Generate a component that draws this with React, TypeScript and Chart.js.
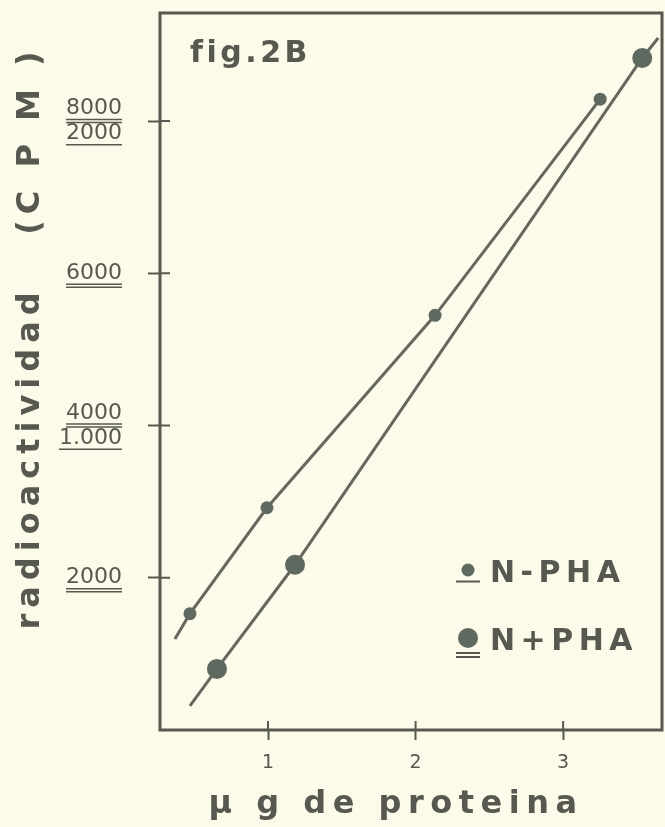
import React, { useEffect, useRef } from 'react';
import { Chart, registerables } from 'chart.js';

Chart.register(...registerables);

// ---- data ----
// N-PHA is read on the secondary scale (2000 at the 8000 mark, 1.000 at 4000)
const N_MINUS_X = [0.471, 0.993, 2.132, 3.251];
const N_MINUS_Y = [382, 730, 1362, 2072];
const N_PLUS_X = [0.654, 1.183, 3.536];
const N_PLUS_Y = [803, 2171, 8829];
// ends of the drawn lines beyond the measured points
const N_MINUS_LINE_START = [0.369, 299];
const N_PLUS_LINE_START = [0.471, 316];
const N_PLUS_LINE_END = [3.644, 9092];

const X_TICKS = [1, 2, 3];
const Y_TICKS = [2000, 4000, 6000, 8000];
const Y_TICK_LABELS = [['2000'], ['4000', '1.000'], ['6000'], ['8000', '2000']];
const Y_TICK_UNDERLINES = [[2], [2, 1], [2], [2, 1]];
const X_MIN = 0.268;
const X_MAX = 3.67;
const Y_MAX = 9420;
const Y2_MAX = 2355;

const SERIES = ['N-PHA', 'N+PHA'];
const FIG_LABEL = 'fig.2B';
const X_TITLE = 'µ g de proteina';
const Y_TITLE = 'radioactividad   (C P M )';

// ---- style ----
const BG = '#fcfae9';
const INK = '#57584f';
const LINE = '#66675f';
const DOT = '#5e6a5f';
const FONT = "'DejaVu Sans', sans-serif";
const TICK_FONT = 22;
const TICK_LH = 1.15;
const SMALL_R = 6.5;
const BIG_R = 10;

const toPts = (xs: number[], ys: number[]) => xs.map((x, i) => ({ x, y: ys[i] }));
const pt = (p: number[]) => ({ x: p[0], y: p[1] });

const TITLE_STYLE: Record<string, { spacing: string; dx: number; dy: number }> = {
  x: { spacing: '6.5px', dx: -15, dy: 0 },
  y: { spacing: '6px', dx: 0, dy: -34 },
};

const zeroPad = (s: any) => {
  s.paddingTop = 0;
  s.paddingBottom = 0;
  s.paddingLeft = 0;
  s.paddingRight = 0;
};

const decor = {
  id: 'decor',
  beforeDraw(chart: any) {
    const { ctx, width, height } = chart;
    ctx.save();
    ctx.fillStyle = BG;
    ctx.fillRect(0, 0, width, height);
    ctx.restore();
    for (const id of ['x', 'y']) {
      const s: any = chart.scales[id];
      if (s && !s.__patched) {
        const orig = s.drawTitle;
        s.drawTitle = function () {
          const c = this.ctx;
          const st = TITLE_STYLE[id];
          c.save();
          c.letterSpacing = st.spacing;
          c.translate(st.dx, st.dy);
          orig.call(this);
          c.restore();
        };
        s.__patched = true;
      }
    }
  },
  afterDraw(chart: any) {
    const { ctx, chartArea: a } = chart;
    const xs = chart.scales.x;
    const ys = chart.scales.y;
    ctx.save();
    ctx.strokeStyle = INK;
    ctx.lineWidth = 3;
    ctx.strokeRect(a.left, a.top, a.right - a.left, a.bottom - a.top);

    // inner parts of the crossing tick marks
    ctx.lineWidth = 2;
    ctx.beginPath();
    X_TICKS.forEach((v) => {
      const px = xs.getPixelForValue(v);
      ctx.moveTo(px, a.bottom);
      ctx.lineTo(px, a.bottom - 9);
    });
    Y_TICKS.forEach((v) => {
      const py = ys.getPixelForValue(v);
      ctx.moveTo(a.left, py);
      ctx.lineTo(a.left + 10, py);
    });
    ctx.stroke();

    // underlines of y tick labels
    ctx.font = `${TICK_FONT}px ${FONT}`;
    const right = a.left - ys.options.grid.tickLength - ys.options.ticks.padding;
    const lh = TICK_FONT * TICK_LH;
    ctx.lineWidth = 1.5;
    Y_TICKS.forEach((v, i) => {
      const py = ys.getPixelForValue(v);
      const lines = Y_TICK_LABELS[i];
      lines.forEach((t, j) => {
        const cy = py + (j - (lines.length - 1) / 2) * lh;
        const w = ctx.measureText(t).width;
        const n = Y_TICK_UNDERLINES[i][j];
        ctx.beginPath();
        for (let k = 0; k < n; k++) {
          const uy = cy + 11 + k * 3;
          ctx.moveTo(right - w, uy);
          ctx.lineTo(right, uy);
        }
        ctx.stroke();
      });
    });

    // figure label
    ctx.fillStyle = INK;
    ctx.letterSpacing = '3.5px';
    ctx.font = `bold 30px ${FONT}`;
    ctx.textAlign = 'left';
    ctx.textBaseline = 'alphabetic';
    ctx.fillText(FIG_LABEL, a.left + 30, a.top + 49);

    // legend
    const lx = a.right - 194;
    const rows = [a.bottom - 157, a.bottom - 89];
    const radii = [SMALL_R, BIG_R];
    ctx.font = `bold 30px ${FONT}`;
    ctx.letterSpacing = '5.5px';
    ctx.textBaseline = 'middle';
    SERIES.forEach((name, i) => {
      const cy = rows[i];
      ctx.fillStyle = DOT;
      ctx.beginPath();
      ctx.arc(lx, cy - 3, radii[i], 0, Math.PI * 2);
      ctx.fill();
      ctx.strokeStyle = INK;
      ctx.lineWidth = 2;
      ctx.beginPath();
      for (let k = 0; k <= i; k++) {
        const uy = cy + radii[i] + 2 + k * 4;
        ctx.moveTo(lx - 12, uy);
        ctx.lineTo(lx + 12, uy);
      }
      ctx.stroke();
      ctx.fillStyle = INK;
      ctx.fillText(name, lx + 22, cy + 1);
    });
    ctx.restore();
  },
};

export default function App() {
  const ref = useRef<HTMLCanvasElement>(null);
  useEffect(() => {
    document.body.style.margin = '0';
    document.body.style.background = BG;
    const chart = new Chart(ref.current as HTMLCanvasElement, {
      type: 'scatter',
      data: {
        datasets: [
          {
            label: SERIES[0] + ' line',
            type: 'line',
            data: [pt(N_MINUS_LINE_START), ...toPts(N_MINUS_X, N_MINUS_Y)],
            yAxisID: 'y2',
            borderColor: LINE,
            borderWidth: 3,
            pointRadius: 0,
            tension: 0,
            fill: false,
            order: 2,
          },
          {
            label: SERIES[1] + ' line',
            type: 'line',
            data: [pt(N_PLUS_LINE_START), ...toPts(N_PLUS_X, N_PLUS_Y), pt(N_PLUS_LINE_END)],
            yAxisID: 'y',
            borderColor: LINE,
            borderWidth: 3,
            pointRadius: 0,
            tension: 0,
            fill: false,
            order: 2,
          },
          {
            label: SERIES[0],
            data: toPts(N_MINUS_X, N_MINUS_Y),
            yAxisID: 'y2',
            backgroundColor: DOT,
            borderWidth: 0,
            pointRadius: SMALL_R,
            order: 1,
          },
          {
            label: SERIES[1],
            data: toPts(N_PLUS_X, N_PLUS_Y),
            yAxisID: 'y',
            backgroundColor: DOT,
            borderWidth: 0,
            pointRadius: BIG_R,
            order: 1,
          },
        ],
      },
      options: {
        animation: false,
        responsive: true,
        maintainAspectRatio: false,
        layout: { autoPadding: false, padding: { top: 13, right: 3, left: 0, bottom: 0 } },
        plugins: { legend: { display: false }, tooltip: { enabled: false } },
        scales: {
          x: {
            type: 'linear',
            min: X_MIN,
            max: X_MAX,
            afterBuildTicks: (s: any) => {
              s.ticks = X_TICKS.map((v) => ({ value: v }));
            },
            afterFit: (s: any) => {
              s.height = 97;
              zeroPad(s);
            },
            ticks: {
              color: INK,
              font: { family: FONT, size: 19 },
              padding: 12,
              callback: (v: any) => String(v),
            },
            grid: { drawOnChartArea: false, tickLength: 10, tickWidth: 2, tickColor: INK },
            border: { display: false },
            title: {
              display: true,
              text: X_TITLE,
              color: INK,
              font: { family: FONT, size: 32, weight: 'bold' },
              padding: { top: 0, bottom: 3 },
            },
          },
          y: {
            type: 'linear',
            position: 'left',
            min: 0,
            max: Y_MAX,
            afterBuildTicks: (s: any) => {
              s.ticks = Y_TICKS.map((v) => ({ value: v }));
            },
            afterFit: (s: any) => {
              s.width = 160;
              zeroPad(s);
            },
            ticks: {
              color: INK,
              font: { family: FONT, size: TICK_FONT, lineHeight: TICK_LH },
              padding: 26,
              callback: (v: any) => Y_TICK_LABELS[Y_TICKS.indexOf(v)] || '',
            },
            grid: { drawOnChartArea: false, tickLength: 12, tickWidth: 2, tickColor: INK },
            border: { display: false },
            title: {
              display: true,
              text: Y_TITLE,
              color: INK,
              font: { family: FONT, size: 32, weight: 'bold' },
              padding: { top: 11, bottom: 0 },
            },
          },
          y2: {
            type: 'linear',
            display: false,
            min: 0,
            max: Y2_MAX,
          },
        },
      },
      plugins: [decor],
    });
    return () => chart.destroy();
  }, []);
  return (
    <div style={{ width: 665, height: 827, position: 'relative', overflow: 'hidden' }}>
      <canvas ref={ref} />
    </div>
  );
}
